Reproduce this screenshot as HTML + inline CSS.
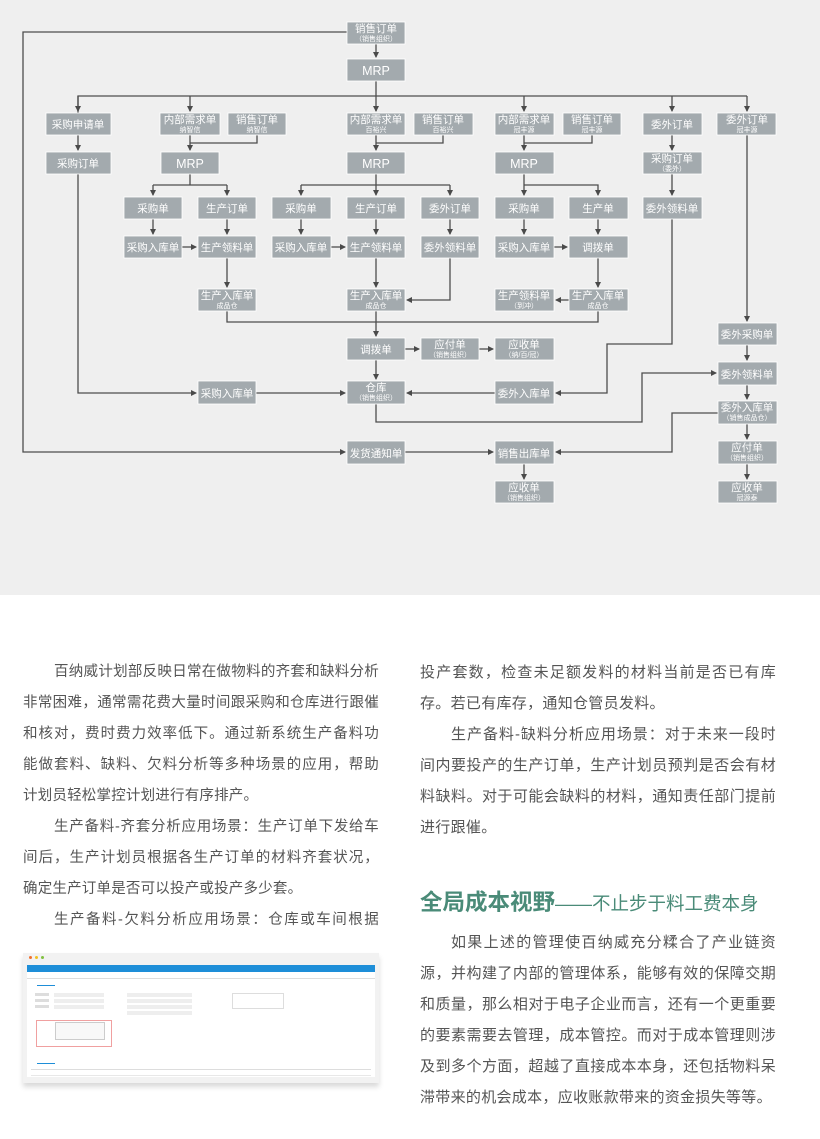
<!DOCTYPE html>
<html><head><meta charset="utf-8">
<style>
html,body{margin:0;padding:0;background:#fff;}
body{width:820px;height:1139px;position:relative;overflow:hidden;font-family:"Liberation Sans","Noto Sans CJK SC",sans-serif;}
.col{position:absolute;width:356px;font-size:15px;line-height:31px;color:#555;text-align:justify;letter-spacing:0.3px;}
.col.l{font-size:14.5px;letter-spacing:0.2px;}
.col.l div{text-align:justify;text-align-last:justify;height:31px;}
.col.l div.e{text-align-last:left;}
.col.l div.i{padding-left:31px;}
.col p{margin:0;text-indent:31px;}
.col p.ni{text-indent:0;}
h2{position:absolute;left:420px;top:888px;margin:0;white-space:nowrap;color:#4a8b78;font-weight:normal;line-height:30px;}
h2 b{font-size:22.5px;}
h2 span{font-size:18.5px;}
</style></head><body>
<svg width="820" height="595" style="position:absolute;left:0;top:0" xmlns="http://www.w3.org/2000/svg">
<defs><marker id="a" markerWidth="6" markerHeight="6" refX="5" refY="3" orient="auto" markerUnits="userSpaceOnUse"><path d="M0,0 L6,3 L0,6 z" fill="#4a4a4a"/></marker></defs>
<rect width="820" height="595" fill="#efefef"/>
<g fill="none" stroke="#4d4d4d" stroke-width="1.3">
<path d="M347,32 H23 V452 H345" marker-end="url(#a)"/>
<path d="M376,44 V57" marker-end="url(#a)"/>
<path d="M376,81 V111" marker-end="url(#a)"/>
<path d="M78,113 V96 H747"/>
<path d="M78,96 V111" marker-end="url(#a)"/>
<path d="M190,96 V111" marker-end="url(#a)"/>
<path d="M524,96 V111" marker-end="url(#a)"/>
<path d="M672,96 V111" marker-end="url(#a)"/>
<path d="M747,96 V111" marker-end="url(#a)"/>
<path d="M78,135 V150" marker-end="url(#a)"/>
<path d="M257,135 V143 H190"/><path d="M190,135 V150" marker-end="url(#a)"/>
<path d="M443,135 V143 H376"/><path d="M376,135 V150" marker-end="url(#a)"/>
<path d="M592,135 V143 H524"/><path d="M524,135 V150" marker-end="url(#a)"/>
<path d="M672,135 V150" marker-end="url(#a)"/>
<path d="M672,174 V195" marker-end="url(#a)"/>
<path d="M190,174 V185 M153,185 H227"/>
<path d="M153,185 V195" marker-end="url(#a)"/><path d="M227,185 V195" marker-end="url(#a)"/>
<path d="M376,174 V195" marker-end="url(#a)"/>
<path d="M301,185 H450"/>
<path d="M301,185 V195" marker-end="url(#a)"/><path d="M450,185 V195" marker-end="url(#a)"/>
<path d="M524,174 V195" marker-end="url(#a)"/>
<path d="M524,185 H598 V195" marker-end="url(#a)"/>
<path d="M153,219 V234" marker-end="url(#a)"/>
<path d="M227,219 V234" marker-end="url(#a)"/>
<path d="M301,219 V234" marker-end="url(#a)"/>
<path d="M376,219 V234" marker-end="url(#a)"/>
<path d="M450,219 V234" marker-end="url(#a)"/>
<path d="M524,219 V234" marker-end="url(#a)"/>
<path d="M598,219 V234" marker-end="url(#a)"/>
<path d="M182,247 H196" marker-end="url(#a)"/>
<path d="M331,247 H345" marker-end="url(#a)"/>
<path d="M554,247 H567" marker-end="url(#a)"/>
<path d="M227,258 V287" marker-end="url(#a)"/>
<path d="M376,258 V287" marker-end="url(#a)"/>
<path d="M598,258 V287" marker-end="url(#a)"/>
<path d="M450,258 V300 H407" marker-end="url(#a)"/>
<path d="M569,300 H556" marker-end="url(#a)"/>
<path d="M227,311 V322 H598 V311"/>
<path d="M376,311 V336" marker-end="url(#a)"/>
<path d="M405,349 H419" marker-end="url(#a)"/>
<path d="M479,349 H493" marker-end="url(#a)"/>
<path d="M376,360 V379" marker-end="url(#a)"/>
<path d="M78,174 V393 H196" marker-end="url(#a)"/>
<path d="M256,393 H345" marker-end="url(#a)"/>
<path d="M495,393 H407" marker-end="url(#a)"/>
<path d="M672,219 V344 H607 V393 H556" marker-end="url(#a)"/>
<path d="M747,135 V321" marker-end="url(#a)"/>
<path d="M747,345 V360" marker-end="url(#a)"/>
<path d="M747,385 V399" marker-end="url(#a)"/>
<path d="M747,424 V439" marker-end="url(#a)"/>
<path d="M747,464 V479" marker-end="url(#a)"/>
<path d="M376,404 V422 H642 V373 H716" marker-end="url(#a)"/>
<path d="M718,413 H672 V452 H556" marker-end="url(#a)"/>
<path d="M405,452 H493" marker-end="url(#a)"/>
<path d="M524,464 V479" marker-end="url(#a)"/>
</g>
<g font-family="Liberation Sans,Noto Sans CJK SC,sans-serif" fill="#fff" text-anchor="middle">
<g fill="#a3aaae" stroke="#fff" stroke-width="0.8">
<rect x="347" y="22" width="58" height="22"/><rect x="347" y="59" width="58" height="22"/>
<rect x="46" y="113" width="65" height="22"/><rect x="160" y="113" width="60" height="22"/><rect x="228" y="113" width="58" height="22"/><rect x="347" y="113" width="58" height="22"/><rect x="414" y="113" width="59" height="22"/><rect x="495" y="113" width="59" height="22"/><rect x="563" y="113" width="58" height="22"/><rect x="643" y="113" width="59" height="22"/><rect x="717" y="113" width="59" height="22"/>
<rect x="46" y="152" width="65" height="22"/><rect x="161" y="152" width="58" height="22"/><rect x="347" y="152" width="58" height="22"/><rect x="495" y="152" width="59" height="22"/><rect x="643" y="152" width="59" height="22"/>
<rect x="124" y="197" width="58" height="22"/><rect x="198" y="197" width="58" height="22"/><rect x="272" y="197" width="59" height="22"/><rect x="347" y="197" width="58" height="22"/><rect x="421" y="197" width="58" height="22"/><rect x="495" y="197" width="59" height="22"/><rect x="569" y="197" width="59" height="22"/><rect x="643" y="197" width="59" height="22"/>
<rect x="124" y="236" width="58" height="22"/><rect x="198" y="236" width="58" height="22"/><rect x="272" y="236" width="59" height="22"/><rect x="347" y="236" width="58" height="22"/><rect x="421" y="236" width="58" height="22"/><rect x="495" y="236" width="59" height="22"/><rect x="569" y="236" width="59" height="22"/>
<rect x="198" y="289" width="58" height="22"/><rect x="347" y="289" width="58" height="22"/><rect x="495" y="289" width="59" height="22"/><rect x="569" y="289" width="59" height="22"/>
<rect x="347" y="338" width="58" height="22"/><rect x="421" y="338" width="58" height="22"/><rect x="495" y="338" width="59" height="22"/>
<rect x="198" y="381" width="58" height="23"/><rect x="347" y="381" width="58" height="23"/><rect x="495" y="381" width="59" height="23"/>
<rect x="347" y="441" width="58" height="23"/><rect x="495" y="441" width="59" height="23"/><rect x="495" y="481" width="59" height="22"/>
<rect x="718" y="323" width="59" height="22"/><rect x="718" y="362" width="59" height="23"/><rect x="718" y="401" width="59" height="23"/><rect x="718" y="441" width="59" height="23"/><rect x="718" y="481" width="59" height="22"/>
</g>
<g font-size="10.5">
<text x="376" y="32">销售订单</text><text x="376" y="41" font-size="7">（销售组织）</text>
<text x="376" y="75" font-size="12.5">MRP</text>
<text x="78" y="128">采购申请单</text>
<text x="190" y="123">内部需求单</text><text x="190" y="132" font-size="7">纳智信</text>
<text x="257" y="123">销售订单</text><text x="257" y="132" font-size="7">纳智信</text>
<text x="376" y="123">内部需求单</text><text x="376" y="132" font-size="7">百裕兴</text>
<text x="443" y="123">销售订单</text><text x="443" y="132" font-size="7">百裕兴</text>
<text x="524" y="123">内部需求单</text><text x="524" y="132" font-size="7">冠丰源</text>
<text x="592" y="123">销售订单</text><text x="592" y="132" font-size="7">冠丰源</text>
<text x="672" y="128">委外订单</text>
<text x="747" y="123">委外订单</text><text x="747" y="132" font-size="7">冠丰源</text>
<text x="78" y="167">采购订单</text>
<text x="190" y="168" font-size="12.5">MRP</text><text x="376" y="168" font-size="12.5">MRP</text><text x="524" y="168" font-size="12.5">MRP</text>
<text x="672" y="162">采购订单</text><text x="672" y="171" font-size="7">（委外）</text>
<text x="153" y="212">采购单</text><text x="227" y="212">生产订单</text><text x="301" y="212">采购单</text><text x="376" y="212">生产订单</text><text x="450" y="212">委外订单</text><text x="524" y="212">采购单</text><text x="598" y="212">生产单</text><text x="672" y="212">委外领料单</text>
<text x="153" y="251">采购入库单</text><text x="227" y="251">生产领料单</text><text x="301" y="251">采购入库单</text><text x="376" y="251">生产领料单</text><text x="450" y="251">委外领料单</text><text x="524" y="251">采购入库单</text><text x="598" y="251">调拨单</text>
<text x="227" y="299">生产入库单</text><text x="227" y="308" font-size="7">成品仓</text>
<text x="376" y="299">生产入库单</text><text x="376" y="308" font-size="7">成品仓</text>
<text x="524" y="299">生产领料单</text><text x="524" y="308" font-size="7">（到冲）</text>
<text x="598" y="299">生产入库单</text><text x="598" y="308" font-size="7">成品仓</text>
<text x="376" y="353">调拨单</text>
<text x="450" y="348">应付单</text><text x="450" y="357" font-size="7">（销售组织）</text>
<text x="524" y="348">应收单</text><text x="524" y="357" font-size="7">（纳/百/冠）</text>
<text x="227" y="397">采购入库单</text>
<text x="376" y="391">仓库</text><text x="376" y="400" font-size="7">（销售组织）</text>
<text x="524" y="397">委外入库单</text>
<text x="376" y="457">发货通知单</text><text x="524" y="457">销售出库单</text>
<text x="524" y="491">应收单</text><text x="524" y="500" font-size="7">（销售组织）</text>
<text x="747" y="338">委外采购单</text>
<text x="747" y="378">委外领料单</text>
<text x="747" y="411">委外入库单</text><text x="747" y="420" font-size="7">（销售成品仓）</text>
<text x="747" y="451">应付单</text><text x="747" y="460" font-size="7">（销售组织）</text>
<text x="747" y="491">应收单</text><text x="747" y="500" font-size="7">冠源泰</text>
</g></g>
</svg>

<div class="col l" style="left:23px;top:657px;">
<div class="i">百纳威计划部反映日常在做物料的齐套和缺料分析</div>
<div>非常困难，通常需花费大量时间跟采购和仓库进行跟催</div>
<div>和核对，费时费力效率低下。通过新系统生产备料功</div>
<div>能做套料、缺料、欠料分析等多种场景的应用，帮助</div>
<div class="e">计划员轻松掌控计划进行有序排产。</div>
<div class="i">生产备料-齐套分析应用场景：生产订单下发给车</div>
<div>间后，生产计划员根据各生产订单的材料齐套状况，</div>
<div class="e">确定生产订单是否可以投产或投产多少套。</div>
<div class="i">生产备料-欠料分析应用场景：仓库或车间根据</div>
</div>

<div class="col" style="left:420px;top:657px;">
<p class="ni">投产套数，检查未足额发料的材料当前是否已有库存。若已有库存，通知仓管员发料。</p>
<p>生产备料-缺料分析应用场景：对于未来一段时间内要投产的生产订单，生产计划员预判是否会有材料缺料。对于可能会缺料的材料，通知责任部门提前进行跟催。</p>
</div>

<h2><b>全局成本视野</b><span>——不止步于料工费本身</span></h2>

<div class="col" style="left:420px;top:927px;">
<p>如果上述的管理使百纳威充分糅合了产业链资源，并构建了内部的管理体系，能够有效的保障交期和质量，那么相对于电子企业而言，还有一个更重要的要素需要去管理，成本管控。而对于成本管理则涉及到多个方面，超越了直接成本本身，还包括物料呆滞带来的机会成本，应收账款带来的资金损失等等。</p>
</div>

<div style="position:absolute;left:23px;top:953px;width:356px;height:130px;background:#f2f2f2;box-shadow:0 4px 5px rgba(0,0,0,0.15);font-size:5px;color:#666;">
  <div style="position:absolute;left:6px;top:3px;width:3px;height:3px;border-radius:50%;background:#f07030"></div>
  <div style="position:absolute;left:12px;top:3px;width:3px;height:3px;border-radius:50%;background:#f0c020"></div>
  <div style="position:absolute;left:18px;top:3px;width:3px;height:3px;border-radius:50%;background:#80c040"></div>
  <div style="position:absolute;left:4px;top:12px;width:348px;height:112px;background:#fff;">
    <div style="height:7px;background:#1e8ed8;"></div>
    <div style="height:6px;border-bottom:1px solid #ddd;"></div>
    <div style="position:absolute;left:10px;top:20px;width:18px;height:1px;background:#1e8ed8"></div>
    <div style="position:absolute;left:8px;top:28px;width:14px;height:3px;background:#ddd"></div>
    <div style="position:absolute;left:8px;top:34px;width:14px;height:3px;background:#ddd"></div>
    <div style="position:absolute;left:8px;top:40px;width:14px;height:3px;background:#ddd"></div>
    <div style="position:absolute;left:27px;top:28px;width:50px;height:4px;background:#eee"></div>
    <div style="position:absolute;left:27px;top:34px;width:50px;height:4px;background:#eee"></div>
    <div style="position:absolute;left:27px;top:40px;width:50px;height:4px;background:#eee"></div>
    <div style="position:absolute;left:100px;top:28px;width:65px;height:4px;background:#eee"></div>
    <div style="position:absolute;left:100px;top:34px;width:65px;height:4px;background:#eee"></div>
    <div style="position:absolute;left:100px;top:40px;width:65px;height:4px;background:#eee"></div>
    <div style="position:absolute;left:100px;top:46px;width:65px;height:4px;background:#eee"></div>
    <div style="position:absolute;left:205px;top:28px;width:50px;height:14px;border:1px solid #ddd"></div>
    <div style="position:absolute;left:9px;top:55px;width:74px;height:25px;border:1px solid #f0a0a0"></div>
    <div style="position:absolute;left:28px;top:57px;width:48px;height:16px;border:1px solid #ccc;background:#f8f8f8"></div>
    <div style="position:absolute;left:10px;top:98px;width:18px;height:1px;background:#1e8ed8"></div>
    <div style="position:absolute;left:4px;top:104px;width:340px;height:1px;background:#ddd"></div>
    <div style="position:absolute;left:4px;top:110px;width:340px;height:1px;background:#e8e8e8"></div>
  </div>
</div>
</body></html>
